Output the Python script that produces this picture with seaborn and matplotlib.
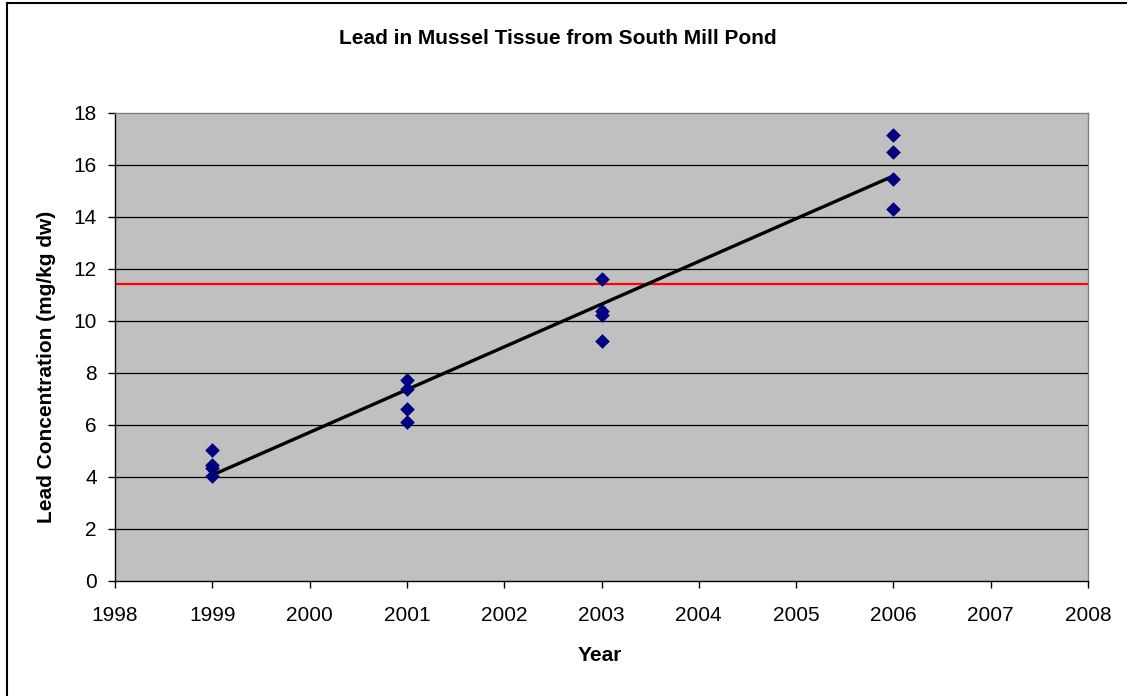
import numpy as np
import pandas as pd
import matplotlib
matplotlib.use("Agg")
import matplotlib.pyplot as plt
import seaborn as sns
from matplotlib.patches import Rectangle

# Lead concentration in mussel tissue, four samples per survey year
years_1999 = [1999, 1999, 1999, 1999]
lead_1999 = [5.05, 4.45, 4.35, 4.05]
years_2001 = [2001, 2001, 2001, 2001]
lead_2001 = [7.75, 7.40, 6.60, 6.10]
years_2003 = [2003, 2003, 2003, 2003]
lead_2003 = [11.60, 10.40, 10.25, 9.25]
years_2006 = [2006, 2006, 2006, 2006]
lead_2006 = [17.15, 16.50, 15.45, 14.30]

threshold = 11.43
x_ticks = list(range(1998, 2009))
y_ticks = list(range(0, 19, 2))

df = pd.DataFrame({
    "Year": years_1999 + years_2001 + years_2003 + years_2006,
    "Lead": lead_1999 + lead_2001 + lead_2003 + lead_2006,
})

# Least-squares trend across the sampled years
slope, intercept = np.polyfit(df["Year"], df["Lead"], 1)
trend = pd.DataFrame({"Year": [df["Year"].min(), df["Year"].max()]})
trend["Lead"] = slope * trend["Year"] + intercept

sns.set_style("white")
plt.rcParams["font.family"] = ["Liberation Sans", "DejaVu Sans"]

fig = plt.figure(figsize=(11.27, 6.96), dpi=100)
fig.patch.set_facecolor("white")
ax = fig.add_axes([115 / 1127, 1 - 581 / 696, (1088 - 115) / 1127, (581 - 113) / 696])
ax.set_facecolor("#C0C0C0")

# Outer chart border
fig.patches.append(Rectangle((7 / 1127, -0.05), 1.2, 1 - 3 / 696 + 0.05,
                             transform=fig.transFigure, fill=False,
                             edgecolor="black", linewidth=1.5, zorder=0))

for yv in y_ticks[1:-1]:
    ax.axhline(yv, color="black", linewidth=0.9, zorder=1)

ax.axhline(threshold, color="#FF0000", linewidth=1.6, zorder=2)

sns.lineplot(data=trend, x="Year", y="Lead", ax=ax, color="black",
             linewidth=2.4, zorder=3)
sns.scatterplot(data=df, x="Year", y="Lead", ax=ax, marker="D", s=48,
                color="#000080", edgecolor="#000080", linewidth=0.5, zorder=4)

ax.set_xlim(1998, 2008)
ax.set_ylim(0, 18)
ax.set_xticks(x_ticks)
ax.set_yticks(y_ticks)
ax.set_xticklabels([str(v) for v in x_ticks])
ax.set_yticklabels([str(v) for v in y_ticks])
ax.tick_params(axis="both", direction="out", length=5, width=1, color="black",
               labelsize=15, labelcolor="black")
ax.tick_params(axis="x", bottom=True, pad=13)
ax.tick_params(axis="y", left=True, pad=8)

for side in ["left", "bottom"]:
    ax.spines[side].set_color("black")
    ax.spines[side].set_linewidth(1.0)
for side in ["top", "right"]:
    ax.spines[side].set_color("#808080")
    ax.spines[side].set_linewidth(1.0)

ax.set_xlabel("Year", fontsize=15, fontweight="bold", color="black")
ax.set_ylabel("Lead Concentration (mg/kg dw)", fontsize=15, fontweight="bold",
              color="black")
ax.xaxis.set_label_coords((600 - 115) / (1088 - 115), -(646 - 581) / (581 - 113))
ax.yaxis.set_label_coords(-(115 - 56) / (1088 - 115), (581 - 367) / (581 - 113))
fig.text(558 / 1127, 1 - 38 / 696, "Lead in Mussel Tissue from South Mill Pond",
         ha="center", va="center", fontsize=15, fontweight="bold", color="black")

fig.savefig("out.png", dpi=100)
